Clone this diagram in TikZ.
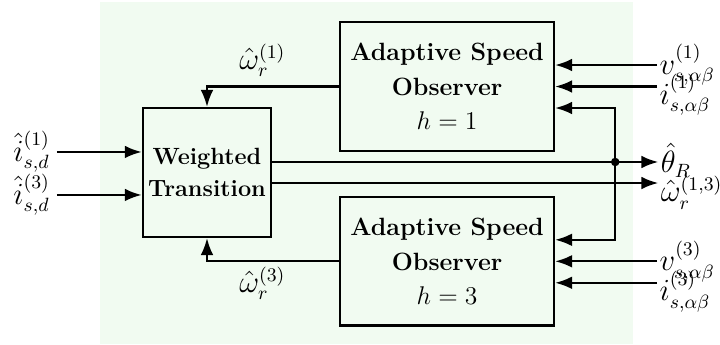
\documentclass[tikz,border=0pt]{standalone}
\usepackage{amsmath,amssymb}
\usetikzlibrary{arrows.meta,positioning,calc}
\definecolor{bgmint}{RGB}{241,251,241}

\begin{document}
\begin{tikzpicture}[
  blk/.style={draw, line width=1.1pt, align=center, inner sep=2pt, minimum height=2.12cm},
  obs/.style={blk, minimum width=3.52cm, font=\fontsize{11.7}{16.2}\selectfont},
  lbl/.style={inner sep=1pt, font=\fontsize{13.5}{16}\selectfont},
  flow/.style={-{Latex[length=2.8mm,width=2.1mm]}, line width=1.1pt}
]
\useasboundingbox (0,0) rectangle (11.858,5.666);
\fill[bgmint] (1.647,0) rectangle (10.425,5.633);

% ---- blocks ----
\node[blk, minimum width=2.11cm, font=\fontsize{11}{15}\selectfont\bfseries] (wt) at (3.409,2.825) {Weighted\\Transition};
\node[obs, right=1.10cm of wt, yshift=1.416cm] (aso1) {\textbf{Adaptive Speed}\\\textbf{Observer}\\$h=1$};
\node[obs, below=0.72cm of aso1] (aso3) {\textbf{Adaptive Speed}\\\textbf{Observer}\\$h=3$};

% ---- left inputs ----
\node[lbl, anchor=east, inner sep=3pt] (id1) at ($(wt.west)+(-1.40,0.338)$) {$\hat{i}_{s,d}^{(1)}$};
\node[lbl, anchor=east, inner sep=3pt] (id3) at ($(wt.west)+(-1.40,-0.37)$) {$\hat{i}_{s,d}^{(3)}$};
\draw[flow] (id1) -- (id1 -| wt.west);
\draw[flow] (id3) -- (id3 -| wt.west);

% ---- speed feedback ----
\draw[flow] (aso1.west) -| node[lbl, pos=0.29, above=3pt] (w1) {$\hat{\omega}_r^{(1)}$} (wt.north);
\draw[flow] (aso3.west) -| node[lbl, pos=0.29, below=1pt] (w3) {$\hat{\omega}_r^{(3)}$} (wt.south);

% ---- outputs ----
\coordinate (o1) at ($(wt.east)+(0,0.173)$);
\coordinate (o3) at ($(wt.east)+(0,-0.173)$);
\node[lbl, anchor=west, yshift=0.03cm] (thR) at ($(aso1.east |- o1)+(1.70,0)$) {$\hat{\theta}_R$};
\node[lbl, anchor=west, yshift=-0.16cm] (wr13) at ($(aso1.east |- o3)+(1.70,0)$) {$\hat{\omega}_r^{(1,3)}$};
\draw[flow] (o1) -- (o1 -| thR.west);
\draw[flow] (o3) -- (o3 -| wr13.west);

% tap back into both observers
\coordinate (tap) at ($(aso1.east |- o1)+(0.99,0)$);
\coordinate (fb1) at ($(aso1.east)+(0,-0.354)$);
\coordinate (fb3) at ($(aso3.east)+(0,0.354)$);
\fill (tap) circle (2pt);
\draw[flow] (tap) |- (fb1);
\draw[flow] (tap) |- (fb3);

% ---- measured voltages / currents ----
\node[lbl, anchor=west] (v1) at ($(aso1.east)+(1.68,0.354)$) {$v_{s,\alpha\beta}^{(1)}$};
\node[lbl, anchor=west, yshift=-0.14cm] (i1) at ($(aso1.east)+(1.68,0)$) {$i_{s,\alpha\beta}^{(1)}$};
\node[lbl, anchor=west] (v3) at ($(aso3.east)+(1.68,0)$) {$v_{s,\alpha\beta}^{(3)}$};
\node[lbl, anchor=west, yshift=-0.14cm] (i3) at ($(aso3.east)+(1.68,-0.354)$) {$i_{s,\alpha\beta}^{(3)}$};
\draw[flow] (v1.west) -- (v1.west -| aso1.east);
\draw[flow] ($(i1.west)+(0,0.14)$) -- ($(i1.west -| aso1.east)+(0,0.14)$);
\draw[flow] (v3.west) -- (v3.west -| aso3.east);
\draw[flow] ($(i3.west)+(0,0.14)$) -- ($(i3.west -| aso3.east)+(0,0.14)$);
\end{tikzpicture}
\end{document}
